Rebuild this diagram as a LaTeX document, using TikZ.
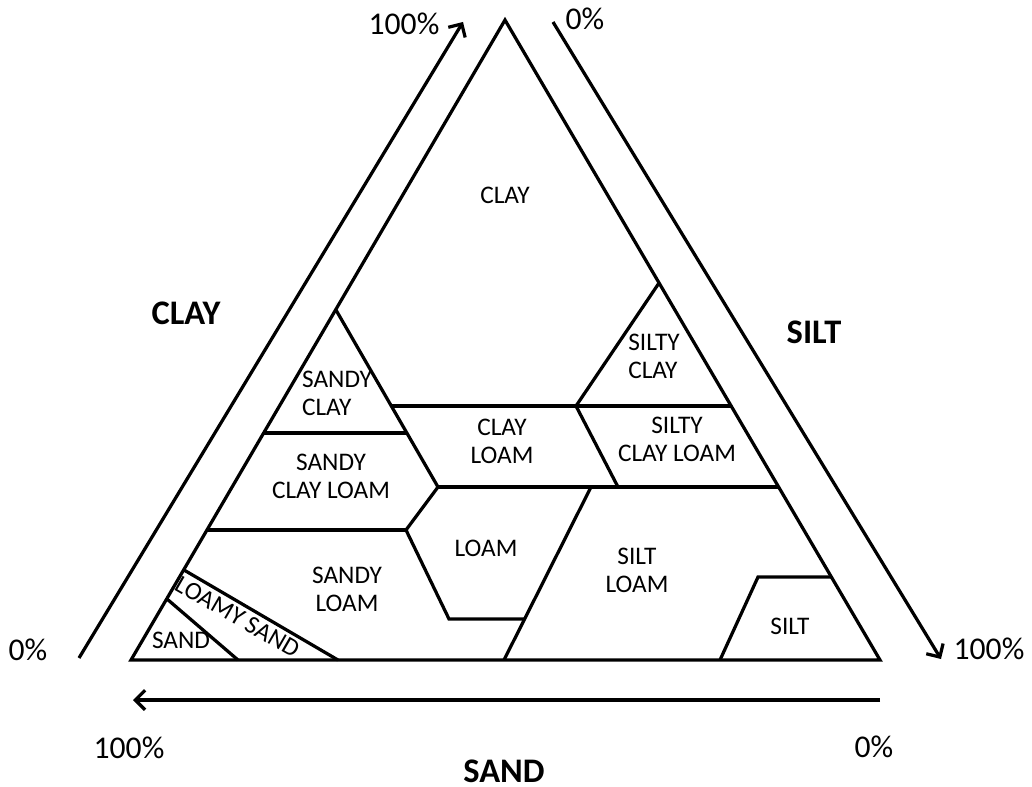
\documentclass[tikz,border=0pt]{standalone}
\usepackage{fontspec}
\setmainfont{Carlito}
\usetikzlibrary{arrows.meta}
\usetikzlibrary{positioning}

\begin{document}
\begin{tikzpicture}[x=0.025cm,y=-0.025cm,line width=2.3pt,
  soil/.style={inner sep=0pt,font=\fontsize{18}{20}\selectfont,align=center},
  pct/.style={inner sep=0pt,font=\fontsize{22.5}{24}\selectfont},
  axis/.style={inner sep=0pt,font=\fontsize{24.5}{28}\selectfont\bfseries},
  axarrow/.style={-{Straight Barb[length=7pt,width=14pt,line width=2.3pt]}}]
\useasboundingbox (0,0) rectangle (1032,787);
% outer triangle
  \coordinate (A) at (131,660);
  \coordinate (B) at (880,660);
  \coordinate (C) at (505,20);
% inner corners
  \coordinate (scA) at (336,310);
  \coordinate (scB) at (407,433);
  \coordinate (scL) at (264,433);
  \coordinate (clT) at (391,406);
  \coordinate (scE) at (438,487);
  \coordinate (stA) at (659,283);
  \coordinate (stB) at (576,406);
  \coordinate (stR) at (731,406);
  \coordinate (stC) at (618,487);
  \coordinate (rE) at (779,487);
  \coordinate (lA) at (591,487);
  \coordinate (lB) at (525,619);
  \coordinate (lC) at (449,619);
  \coordinate (lD) at (406,530);
  \coordinate (sclL) at (207,530);
  \coordinate (sltL) at (504,660);
  \coordinate (siA) at (758,577);
  \coordinate (siB) at (831,577);
  \coordinate (siC) at (720,660);
  \coordinate (lsA) at (184,570);
  \coordinate (lsB) at (338,660);
  \coordinate (sdA) at (167,599);
  \coordinate (sdB) at (238,660);
% axis arrows
  \coordinate (clay0) at (79,658);
  \coordinate (clay1) at (463,22);
  \coordinate (silt0) at (553,22);
  \coordinate (silt1) at (941,659);
  \coordinate (sand0) at (880,700);
  \coordinate (sand1) at (133,700);

  \draw[line join=miter](A)--(B)--(C)--cycle;
  \draw(scA)--(scE);
  \draw(scL)--(scB);
  \draw(clT)--(stB)--(stR);
  \draw(stA)--(stB)--(stC);
  \draw(scE)--(rE);
  \draw(scE)--(lD)--(lC)--(lB);
  \draw(sclL)--(lD);
  \draw(lA)--(sltL);
  \draw(siC)--(siA)--(siB);
  \draw(lsA)--(lsB);
  \draw(sdA)--(sdB);

  \draw[axarrow](clay0)--(clay1);
  \draw[axarrow](silt0)--(silt1);
  \draw[axarrow](sand0)--(sand1);

% region names
  \node[soil] (clay) at (505,195) {CLAY};
  \node[soil,align=left] (sandyclay) at (337,393) {SANDY\\CLAY};
  \node[soil] (clayloam) at (502,441) {CLAY\\LOAM};
  \node[soil,align=left] (siltyclay) at (654,356) {SILTY\\CLAY};
  \node[soil] (siltyclayloam) at (677,439) {SILTY\\CLAY LOAM};
  \node[soil] (sandyclayloam) at (331,476) {SANDY\\CLAY LOAM};
  \node[soil] (loam) at (486,548) {LOAM};
  \node[soil] (sandyloam) at (347,589) {SANDY\\LOAM};
  \node[soil] (siltloam) at (637,570) {SILT\\LOAM};
  \node[soil] (silt) at (790,626) {SILT};
  \node[soil] (sand) at (181,640) {SAND};
  \node[soil,rotate=-30] (loamysand) at (238,617) {LOAMY SAND};

% axis names and percentages
  \node[axis] (claylabel) at (186,313) {CLAY};
  \node[axis] (siltlabel) at (814,332) {SILT};
  \node[axis] (sandlabel) at (504,771) {SAND};
  \node[pct] (clay100) at (404,24) {100\%};
  \node[pct] (clay0lab) at (28,650) {0\%};
  \node[pct] (silt0lab) at (585,19) {0\%};
  \node[pct] (silt100) at (989,649) {100\%};
  \node[pct] (sand100) at (129,748) {100\%};
  \node[pct] (sand0lab) at (874,747) {0\%};
\end{tikzpicture}
\end{document}
